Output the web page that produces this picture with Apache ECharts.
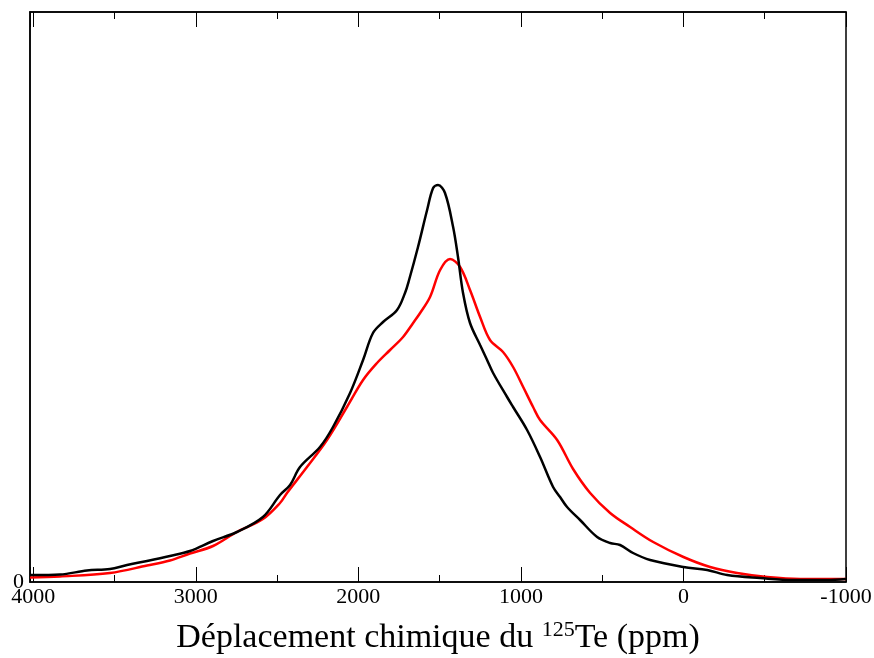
<!DOCTYPE html>
<html>
<head>
<meta charset="utf-8">
<script src="https://cdn.jsdelivr.net/npm/echarts@6/dist/echarts.min.js"></script>
<style>html,body{margin:0;padding:0;background:#fff}#c{width:874px;height:658px}</style>
</head>
<body>
<div id="c"></div>
<script>
// Chemical shift (ppm) and intensity (arbitrary units)
var blackX = [4020, 4000, 3836, 3670, 3528, 3423, 3300, 3159, 3036, 2894, 2747, 2587, 2482, 2420, 2359, 2236, 2156, 2051, 1971, 1910, 1848, 1762, 1713, 1688, 1633, 1577, 1540, 1510, 1467, 1417, 1387, 1356, 1313, 1251, 1208, 1171, 1085, 1048, 962, 882, 802, 759, 716, 636, 531, 451, 390, 310, 205, 0, -146, -269, -472, -675, -884, -1000];
var blackY = [7, 7, 7.5, 11.5, 13, 17, 21, 26, 31, 41, 50, 65, 87, 97, 115, 135, 155, 189, 222, 249, 260, 272, 289, 302, 335, 372, 394, 397, 389, 355, 325, 289, 259, 237, 222, 209, 185, 175, 152, 125, 95, 85, 75, 62, 45, 39, 37, 29, 22, 15, 12, 7, 4, 2, 2, 3];
var redX = [4020, 3836, 3528, 3300, 3159, 3036, 2894, 2747, 2587, 2482, 2439, 2316, 2193, 2070, 1971, 1885, 1805, 1725, 1663, 1620, 1559, 1497, 1436, 1374, 1313, 1251, 1190, 1110, 1048, 986, 925, 882, 777, 679, 574, 451, 328, 186, 0, -164, -330, -515, -718, -1000];
var redY = [4.5, 5.5, 9, 16.5, 21.5, 28.5, 36, 50, 63, 79, 89, 115, 142, 175, 202, 219, 232, 245, 259, 269, 285, 312, 323, 315, 292, 265, 242, 230, 215, 195, 175, 162, 142, 113, 89, 69, 55, 40, 25, 15, 9, 5, 3, 3];
var xTicks = [-1000, 0, 1000, 2000, 3000, 4000];

function pairs(xs, ys) { return xs.map(function (x, i) { return [x, ys[i]]; }); }

var serif = 'Liberation Serif';
var chart = echarts.init(document.getElementById('c'));
chart.setOption({
  animation: false,
  grid: { left: 30, right: 28, top: 12, bottom: 76, show: true, borderColor: '#000', borderWidth: 1.5, outerBoundsMode: 'none', containLabel: false },
  xAxis: [{
    type: 'value', inverse: true, min: -1000, max: 4020, interval: 1000,
    axisLine: { onZero: false, lineStyle: { color: '#000', width: 1.5 } },
    axisTick: { inside: true, length: 15, lineStyle: { color: '#000', width: 1 } },
    minorTick: { show: true, splitNumber: 2, length: 7, lineStyle: { color: '#000', width: 1 } },
    splitLine: { show: false },
    axisLabel: {
      color: '#000', fontFamily: serif, fontSize: 22, margin: 4, showMaxLabel: false,
      formatter: function (v) { return xTicks.indexOf(v) >= 0 ? String(v) : ''; }
    },
    name: '{a|Déplacement chimique du }{s|125}{a|Te (ppm)}',
    nameLocation: 'middle', nameGap: 37,
    nameTextStyle: {
      color: '#000', fontFamily: serif, fontSize: 34,
      rich: {
        a: { fontFamily: serif, fontSize: 34, color: '#000', lineHeight: 38 },
        s: { fontFamily: serif, fontSize: 22, color: '#000', verticalAlign: 'top', lineHeight: 38, padding: [0, 0, 16, 0] }
      }
    }
  }, {
    type: 'value', inverse: true, min: -1000, max: 4020, interval: 1000, position: 'top',
    axisLine: { onZero: false, lineStyle: { color: '#000', width: 1.5 } },
    axisTick: { inside: true, length: 15, lineStyle: { color: '#000', width: 1 } },
    minorTick: { show: true, splitNumber: 2, length: 7, lineStyle: { color: '#000', width: 1 } },
    splitLine: { show: false }, axisLabel: { show: false }
  }],
  yAxis: {
    type: 'value', min: 0, max: 570, interval: 570,
    axisLine: { show: true, onZero: false, lineStyle: { color: '#000', width: 1.5 } },
    axisTick: { show: false }, splitLine: { show: false },
    axisLabel: {
      color: '#000', fontFamily: serif, fontSize: 22, margin: 6,
      formatter: function (v) { return v === 0 ? '0' : ''; }
    }
  },
  series: [{
    type: 'line', data: pairs(redX, redY), showSymbol: false, smooth: 0.35,
    lineStyle: { color: '#ff0000', width: 2.5 }, z: 2
  }, {
    type: 'line', data: pairs(blackX, blackY), showSymbol: false, smooth: 0.35,
    lineStyle: { color: '#000000', width: 2.5 }, z: 3
  }]
});
</script>
</body>
</html>
